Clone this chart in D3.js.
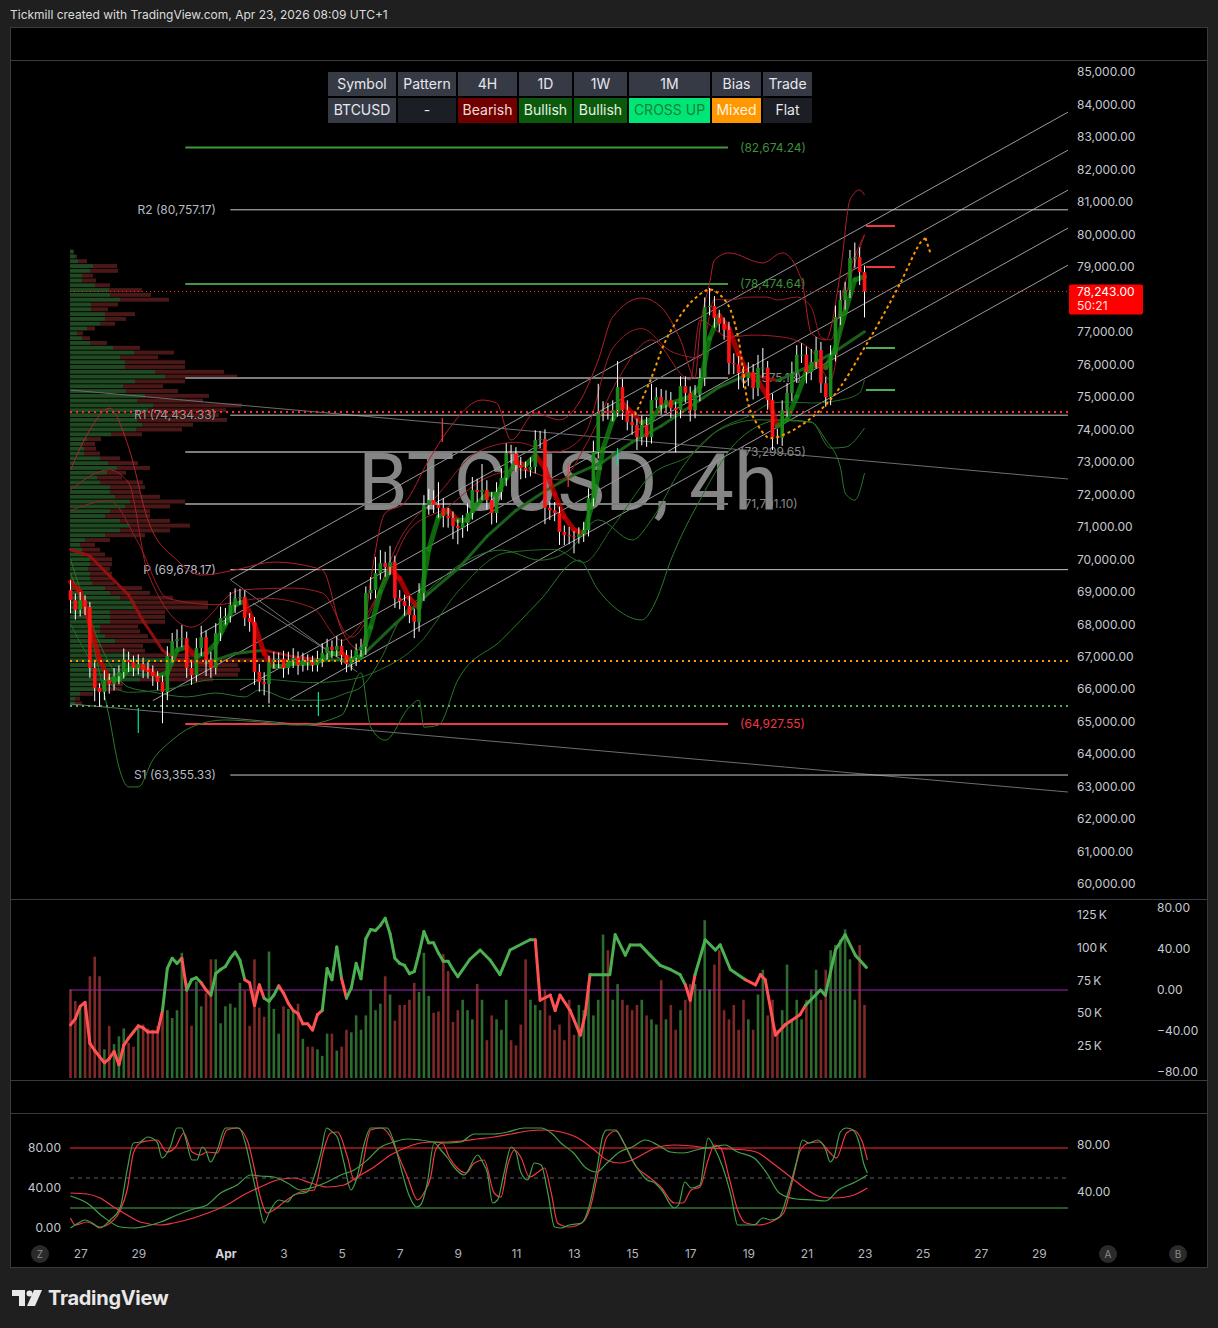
<!DOCTYPE html>
<html><head><meta charset="utf-8">
<script src="https://cdn.jsdelivr.net/npm/d3@7/dist/d3.min.js"></script>
<style>body{margin:0;background:#1f1f1f;}svg{display:block;font-family:Inter,"Noto Sans",sans-serif;}</style>
</head><body><svg id="c" width="1218" height="1328"></svg>
<script>
// ---------------- DATA ----------------
const firstOpen = 69050;
const closes = [68740,68440,68740,68530,66650,66030,65910,66280,66160,66400,
66530,66900,66830,66650,66770,66590,66530,66400,66220,65910,
67020,67480,67540,67570,66650,66430,67270,67600,66900,66650,
67730,68190,68250,68590,68800,68840,68190,68070,66530,66220,
66160,66830,66900,66930,66650,66900,66960,66740,66870,66830,
66740,66930,67110,67300,67200,67330,67050,66770,66960,67200,
67300,68960,69050,69570,69880,69760,69910,68800,68710,68560,
68280,68070,68960,71670,71820,71670,71580,71330,71270,71020,
70960,71110,71420,72130,72070,72130,71820,71420,72070,72500,
73270,73250,72900,72810,72750,72840,73670,73700,71580,71510,
71420,70840,70740,70710,70680,70780,70900,71880,73300,74500,
74560,74500,74590,75300,74590,74220,74130,73760,74130,73760,
74900,74990,74750,74900,74650,74590,75330,75120,74590,75060,
75580,77760,77800,77430,77240,77060,76040,76000,75730,75580,
75760,75270,75890,75900,74900,73760,73740,74590,75120,75730,
76290,76300,75760,76070,76440,75420,74990,76290,77460,77980,
78290,79270,79300,78840,78243];
const wickUp = [300,200,250,150,150,200,150,300,200,250,200,350,250,200,300,200,250,200,150,200,
300,250,300,400,200,250,300,350,200,250,300,350,250,400,300,250,200,150,150,250,
300,200,250,200,250,250,300,200,250,200,200,250,300,250,200,300,200,150,250,200,
250,200,400,500,400,350,500,200,250,200,300,200,300,300,350,300,700,300,250,200,
200,250,300,400,350,800,300,250,300,300,300,250,200,250,200,300,300,250,300,200,
250,200,200,250,150,200,250,300,350,900,300,250,300,800,250,300,250,200,300,250,
500,300,250,300,250,200,300,300,200,300,300,300,550,300,250,200,250,300,250,200,
300,250,400,600,200,200,250,300,300,350,300,350,250,400,400,250,200,300,350,300,
250,250,450,300,200];
const wickDn = [400,300,200,250,300,400,450,250,300,200,250,200,300,250,200,250,200,300,250,960,
250,200,200,250,300,300,200,250,500,300,200,250,200,200,250,200,250,300,400,300,
350,600,200,250,300,200,250,300,200,250,200,200,250,200,250,200,300,250,200,250,
200,250,200,250,200,300,250,300,250,300,250,500,300,250,300,250,300,350,300,400,
500,300,250,200,300,250,300,350,300,250,250,300,200,350,250,200,200,250,500,300,
250,400,300,250,500,200,250,200,250,200,250,200,250,200,300,250,300,400,250,300,
200,250,300,250,300,1300,250,300,350,250,200,250,250,300,250,300,350,300,500,300,
250,350,250,300,300,400,200,250,200,250,300,250,350,250,200,300,300,250,200,250,
300,250,300,400,800];
const volumesK = [68,59,54,57,78,93,78,22,40,26,32,38,27,24,40,41,38,37,40,52,
52,46,52,96,73,40,74,55,65,91,91,42,55,57,54,73,67,40,91,54,
47,97,53,34,55,53,51,57,30,24,24,22,17,34,34,21,24,37,35,48,
37,48,68,52,57,78,64,44,56,56,60,73,66,96,63,50,51,95,82,43,
52,60,52,45,72,60,29,48,45,37,60,29,25,41,91,60,56,52,68,48,
37,41,29,60,33,56,52,68,48,60,110,98,60,72,60,56,52,56,60,48,
45,41,75,45,56,37,52,60,72,72,68,121,68,87,98,52,45,56,37,60,
45,37,64,83,48,60,37,52,87,45,60,45,60,68,83,60,83,98,102,106,
114,91,60,102,56];
const oscPts = [[0,-34],[1,-28],[2,-16],[3,-12],[4,-52],[5,-59],[6,-65],[7,-71],[8,-67],[9,-60],[10,-73],[11,-54],[12,-47],[13,-41],[14,-35],[15,-37],[16,-41],[18,-41],[19,-20],[20,21],[21,31],[22,26],[23,31],[24,0],[25,10],[26,12],[27,7],[28,0],[29,-5],[30,16],[31,20],[32,23],[33,31],[34,37],[35,29],[36,10],[37,7],[38,-15],[39,5],[40,-8],[41,-11],[42,-5],[43,4],[44,-3],[45,-13],[46,-20],[47,-23],[48,-33],[49,-33],[50,-39],[51,-24],[52,-20],[53,21],[54,10],[55,42],[56,11],[57,-8],[58,2],[59,26],[60,11],[61,50],[62,59],[63,58],[64,63],[65,70],[66,55],[67,31],[68,26],[69,24],[70,16],[71,18],[72,36],[73,57],[74,46],[75,46],[76,36],[77,28],[78,28],[79,20],[80,13],
[82.5,30],[84.6,39],[86.7,29],[88.7,15],[90.8,39],[94.9,49],[96,49],[97,-10],[99.1,-5],[100.1,-20],[101.1,-5],[103.2,-20],[105.3,-44],[106.3,-24],[107.3,15],[111.4,15],[112.5,54],[114.6,34],[115.6,44],[117.7,44],[119.7,34],[121.8,24],[123.9,20],[125.9,15],[127,5],[128,-10],[129,15],[131.1,49],[133.2,39],[134.2,44],[136.3,20],[139.4,10],[141.5,5],[142.5,15],[143.5,10],[145.6,-44],[147.6,-34],[150.7,-24],[151.8,-15],[154.9,0],[155.9,-5],[158,39],[160,54],[162.1,34],[164.4,22]];
const oscColorSpans = [[0,19,'r'],[19,23,'g'],[23,24,'r'],[24,27,'g'],[27,29,'r'],[29,36,'g'],[36,40,'r'],[40,43,'g'],[43,52,'r'],[52,56,'g'],[56,57,'r'],[57,96.5,'g'],[96.5,107,'r'],[107,127.5,'g'],[127.5,129,'r'],[129,139,'g'],[139,151.5,'r'],[151.5,166,'g']];
const stochK = [[0,0],[2,6],[3,8],[4.8,4],[6,0],[8.2,8],[10.3,21],[11.7,58],[13,85],[14.4,86],[15.9,91],[17.9,86],[18.9,70],[20.6,81],[22,100],[23,100],[23.7,91],[25.1,68],[26.1,68],[27.2,81],[27.9,78],[28.9,66],[30.3,78],[32,100],[34.8,100],[36.1,85],[37.5,55],[38.6,31],[40,5],[41,15],[43,28],[44.8,26],[46.1,33],[48.9,36],[50.3,51],[51.7,75],[52.9,100],[54.1,96],[55.1,91],[56.5,65],[57.9,38],[59.2,51],[60.6,83],[62,100],[65.4,100],[66.8,86],[68.2,61],[69.9,33],[71.5,21],[72.3,23],[73.7,45],[75.1,85],[76.5,78],[77.9,70],[79.2,61],[81.3,53],[84.1,73],[85.1,66],[86.1,55],[87.2,25],[88.2,28],[89.6,56],[91,81],[92,76],[93,56],[94.4,48],[95.8,65],[97.2,63],[98.6,35],[100,1],[101.3,0],[103,3],[105.6,5],[106.9,18],[108.7,58],[110,93],[110.8,98],[112.6,98],[114.3,85],[116,68],[117.8,55],[119.1,48],[120.4,46],[122.1,38],[124.7,20],[125.6,23],[126.9,46],[128.2,40],[130,43],[131.7,90],[133,80],[134.7,61],[136.5,31],[137.8,3],[139.5,3],[141.2,3],[143,10],[144.7,8],[146.4,11],[148.2,35],[149.9,65],[151.2,88],[152.5,85],[154.3,88],[156,78],[156.9,66],[157.7,71],[159,96],[160.3,100],[161.6,98],[162.9,85],[163.8,65],[164.6,55]];
const stochD = [[0,10],[1,3],[3.4,6],[6.1,1],[8.2,5],[10.3,18],[11.7,38],[13,75],[14.4,85],[15.8,87],[17.9,88],[19.9,76],[21.7,81],[23.4,95],[25.1,76],[26.8,73],[28.2,76],[30.3,75],[32.3,98],[34.4,100],[36.5,88],[37.9,61],[39.2,31],[40.6,15],[42,18],[44.1,26],[47.5,36],[50.3,38],[52.3,78],[53.7,95],[55.1,96],[57.2,71],[58.6,48],[59.9,55],[62,98],[64.1,100],[66.1,91],[67.5,75],[69.6,51],[71.7,28],[73,35],[74.4,51],[75.4,78],[76.8,85],[78.2,71],[79.9,60],[81.7,55],[83.4,65],[85.4,68],[87.5,35],[88.9,31],[90.3,63],[91.7,78],[93,71],[94.8,51],[96.6,56],[97.9,60],[99.3,35],[100.6,5],[101.3,3],[103,1],[105.6,5],[107.4,21],[109.1,58],[110.8,91],[112.6,97],[114.3,85],[116.9,61],[119.5,51],[122.1,40],[124.7,25],[126.5,25],[128.2,38],[130,41],[131.7,68],[133,83],[134.3,80],[136,51],[137.8,18],[139.5,5],[142.1,3],[144.7,6],[147.3,15],[149,45],[150.8,78],[152.5,85],[154.7,86],[156.9,75],[158.2,70],[160.3,95],[161.6,98],[163.4,88],[164.6,68]];
const slowK = [[0,32],[3.4,25],[6.8,11],[10.3,1],[13,0],[15.8,2],[18.6,6],[22,13],[25.4,19],[28.2,23],[31,35],[34.4,43],[37.2,53],[39.2,52],[42,51],[44.8,45],[47.5,38],[50.3,41],[53,46],[55.8,53],[58.6,58],[61.3,68],[64.1,81],[66.8,86],[69.6,89],[72.3,88],[75.1,86],[77.9,85],[80.6,86],[83.4,94],[87.5,94],[90.3,96],[93.7,100],[97.2,100],[99.3,95],[101.3,85],[103.9,75],[106.5,60],[108.7,56],[110.8,65],[113.4,76],[116,81],[118.7,88],[121.3,83],[123.9,76],[126.5,75],[130,79],[132.6,81],[135.2,83],[137.8,76],[141.2,70],[143.8,55],[146.4,35],[149.9,29],[153.4,28],[156,27],[158.6,38],[162.1,46],[164.6,53]];
const slowD = [[0,35],[3.4,34],[6.1,30],[8.9,21],[11.7,13],[14.4,6],[18.6,3],[21.3,5],[25.4,10],[28.9,16],[32.3,23],[35.7,33],[39.2,41],[42.7,48],[46.1,50],[49.6,45],[53,41],[56.5,43],[59.2,51],[62.7,61],[66.1,73],[69.6,81],[72.3,85],[75.1,86],[77.9,86],[80.6,87],[84.1,89],[87.5,91],[91,94],[94.4,97],[97.9,98],[101.3,96],[104.8,90],[108.2,78],[110.8,68],[113.4,65],[116,68],[118.7,75],[121.3,81],[124.7,83],[128.2,82],[131.7,80],[136,79],[139.5,78],[142.1,75],[144.7,66],[148.2,53],[151.6,40],[155.1,31],[157.7,30],[161.2,32],[164.6,40]];
const maFast = [[0,69300],[2,69000],[4,68000],[6,66900],[8,66300],[10,66300],[12,66600],[14,66700],[16,66600],[18,66400],[20,66500],[22,67200],[24,67300],[26,67000],[28,67100],[30,67400],[32,68000],[34,68600],[36,68700],[38,68000],[40,67100],[42,66700],[44,66700],[46,66800],[48,66800],[50,66800],[52,66900],[54,67100],[56,67100],[58,66900],[60,67000],[62,67900],[64,69000],[66,69700],[68,69400],[70,68800],[72,68500],[74,70300],[76,71300],[78,71500],[80,71200],[82,71200],[84,71700],[86,72000],[88,72000],[90,72500],[92,73000],[94,72900],[96,73200],[98,72800],[100,72000],[102,71300],[104,70900],[106,70800],[108,71800],[110,73400],[112,74300],[114,74800],[116,74500],[118,74200],[120,74300],[122,74700],[124,74800],[126,74900],[128,75000],[130,75300],[132,76800],[134,77500],[136,77100],[138,76300],[140,75700],[142,75500],[144,75000],[146,74100],[148,74300],[150,75000],[152,75800],[154,76000],[156,75900],[158,76500],[160,77600],[162,78600],[164,78700]];
const maSlow = [[0,70300],[4,70100],[8,69500],[12,68900],[15,68100],[19,67200],[22,66900],[28,66800],[34,67100],[40,67200],[46,67000],[52,66900],[56,66900],[60,67000],[67,68000],[74,68950],[80,69700],[86,70700],[92,71500],[98,72100],[104,72600],[110,73000],[116,73600],[122,74100],[128,74700],[134,75300],[140,75700],[146,75500],[152,75900],[158,76400],[164,77000]];
const bandU1 = [[0,72750],[4,73980],[8,74650],[12,73450],[16,71200],[22,69970],[27,69510],[34,69670],[42,69910],[52,69670],[56,67820],[60,67200],[62,69360],[65,71420],[69,71730],[74,73050],[78,73980],[85,74900],[88,74810],[91,73670],[96,74500],[101,74290],[105,74810],[109,76130],[112,77460],[118,78040],[122,77760],[126,76750],[129,75580],[130,77060],[132,78500],[133,79210],[136,79430],[143,79120],[147,79430],[151,78600],[153,76960],[156,76750],[159,78810],[161,81060],[163,81370],[164,81210]];
const bandU2 = [[0,72130],[8,72750],[12,72350],[16,69570],[25,67910],[35,69050],[46,69110],[52,68960],[58,67600],[65,69360],[70,70900],[78,71610],[85,72440],[93,72750],[101,72440],[107,73670],[113,75520],[120,76750],[128,75520],[130,77360],[136,76840],[141,76900],[147,76840],[153,76440],[157,75520],[160,77980],[164,79980]];
const bandU3 = [[0,71500],[8,71800],[14,70500],[20,68800],[30,68600],[40,68800],[50,68500],[56,67500],[62,68500],[68,70600],[76,72000],[84,73300],[92,73600],[100,73300],[106,73800],[112,76500],[118,77100],[124,76400],[130,76200],[133,78000],[136,77980],[140,78070],[144,78070],[146,77980],[150,78070],[153,77760],[155,76840],[157,76750],[160,78500],[164,80000]];
const bandL1 = [[0,69570],[4,67820],[6,66500],[8,65140],[10,63600],[12,62990],[14,62990],[17,63820],[21,64430],[25,64830],[32,65050],[39,64990],[47,64890],[56,65200],[60,66500],[62,64830],[65,64430],[70,65450],[72,65660],[73,64830],[76,64890],[80,66280],[89,67510],[97,68740],[105,69970],[109,69050],[113,68440],[118,68130],[121,68740],[124,69970],[130,71820],[138,73670],[147,74290],[153,74220],[156,73670],[159,72840],[160,72040],[162,71820],[164,72650]];
const bandL2 = [[0,70000],[8,66800],[12,66060],[17,65910],[24,65760],[30,65880],[36,65760],[39,65970],[46,65660],[52,65660],[57,65880],[60,66060],[64,66900],[68,68130],[74,69050],[82,69970],[89,70280],[97,69970],[103,70280],[109,71210],[116,70590],[120,71210],[126,72750],[134,73980],[142,74290],[153,74220],[157,73420],[160,73450],[164,74040]];
const bandL3 = [[0,68000],[6,66500],[12,65900],[20,66000],[30,66300],[40,66300],[50,66200],[58,66300],[64,66600],[72,67400],[80,69000],[90,70200],[100,70300],[106,69900],[112,71000],[120,72600],[128,73200],[134,74000],[140,74400],[145,74810],[148,74840],[153,74810],[159,74900],[163,75120],[164,75520]];
const pivots = [["R2",80757.17],["R1",74434.33],["P",69678.17],["S1",63355.33]];
const levels = [[82674.24,"g"],[78474.64,"g"],[75575.18,"n"],[73299.65,"n"],[71701.10,"n"],[64927.55,"r"]];
const dotted = [[74531,"r"],[66865,"o"],[65480,"g"]];
const lastPrice = 78243.00, countdown = "50:21";
const targets = [[80258,"r"],[78996,"r"],[76502,"g"],[75209,"g"]];
const ticks = [[14,65420,64650,"g"],[51.2,65910,65170,"g"],[113,73420,72900,"g"],[76.8,74350,73610,"r"],[102.8,72960,72220,"r"]];
const channel = [[[33,69370],[206.1,83770]],[[26.8,67695],[206.1,82600]],[[17,65645],[206.1,81370]],[[35,65970],[206.1,80200]],[[45.4,65700],[206.1,79060]]];
const otherLines = [[[0,75209],[206.1,72469]],[[0,65541],[206.1,62831]],[[33,69370],[59.2,66530]],[[37.7,68650],[58.4,66680]]];
const projPath = [[116.6,74440],[119.8,75517],[123.3,76841],[128,77888],[131.5,78288],[132.7,78288],[135.6,77888],[137.7,76964],[139,75732],[139.8,74901],[141,74377],[143.9,73761],[145.1,73731],[149.3,73977],[154.9,74593],[159,75301],[163.7,76441],[167.3,77364],[171.4,78503],[175.5,79735],[176.6,79889]];
const projArrow = [[176.6,79889],[177.6,79427]];
const vpTop = 79470, vpStep = 148;
const vpBuy = [3,5,8,23,20,12,12,25,39,40,50,21,21,35,35,30,17,7,12,20,43,64,50,55,55,85,95,65,53,56,75,67,83,78,70,67,72,66,41,17,13,14,14,30,38,47,37,27,30,40,40,45,60,55,40,35,50,60,50,35,15,10,12,15,20,20,18,20,20,22,35,40,50,65,65,40,40,40,30,30,35,45,30,30,60,120,80,80,80,70,25,25,10,5,5];
const vpSell = [1,2,9,24,28,11,14,15,33,41,49,27,17,30,21,15,8,6,8,17,27,40,38,60,60,69,72,50,40,52,64,66,89,78,79,90,51,46,31,14,12,12,16,20,30,33,19,25,43,35,30,45,55,45,40,45,50,60,50,40,25,15,18,20,22,22,22,22,22,23,37,40,53,73,73,55,55,55,38,40,43,55,43,45,70,137,88,90,88,73,28,27,13,5,7];
const tableHead = ["Symbol","Pattern","4H","1D","1W","1M","Bias","Trade"];
const tableRow = ["BTCUSD","-","Bearish","Bullish","Bullish","CROSS UP","Mixed","Flat"];
const priceTicks = d3.range(60000, 85001, 1000);
const volTicks = [25,50,75,100,125];
const oscTicks = [-80,-40,0,40,80];
const stochTicksL = [0,40,80];
const stochTicksR = [40,80];
const timeTicks = ["2026-03-27","2026-03-29","2026-04-01","2026-04-03","2026-04-05","2026-04-07","2026-04-09","2026-04-11","2026-04-13","2026-04-15","2026-04-17","2026-04-19","2026-04-21","2026-04-23","2026-04-25","2026-04-27","2026-04-29"];

// ---------------- SCALES ----------------
const svg = d3.select('#c');
const t0 = Date.UTC(2026,2,26,16);
const xT = d3.scaleUtc().domain([new Date(t0), new Date(Date.UTC(2026,3,23,0))]).range([70.5, 864.5]);
const xi = i => xT(new Date(t0 + i*4*3600e3));
const yP = d3.scaleLinear().domain([60000,85000]).range([884,72]);
const yV = d3.scaleLinear().domain([0,125]).range([1078,915]);
const yO = d3.scaleLinear().domain([-80,80]).range([1072,908]);
const yS = d3.scaleLinear().domain([0,80]).range([1228,1148]);
const yS2 = d3.scaleLinear().domain([40,80]).range([1192,1145]);
const xVP = d3.scaleLinear().domain([0,100]).range([70,170]);
const PLOT_R = 1068;
const col = {g:'#1b8a1b', r:'#ff1414', ax:'#c7c9d0'};

// ---------------- FRAME ----------------
svg.append('rect').attr('width',1218).attr('height',1328).attr('fill','#1f1f1f');
svg.append('text').attr('x',10).attr('y',19).attr('font-size',12).attr('fill','#dcdcdc')
  .text('Tickmill created with TradingView.com, Apr 23, 2026 08:09 UTC+1');
svg.append('rect').attr('x',10.5).attr('y',27.5).attr('width',1197).attr('height',1240).attr('fill','#000').attr('stroke','#3a3a3a');
[60.5,899.5,1080.5,1113.5].forEach(y=>svg.append('line').attr('x1',11).attr('x2',1207).attr('y1',y).attr('y2',y).attr('stroke','#363a45'));

const defs = svg.append('defs');
defs.append('clipPath').attr('id','cm').append('rect').attr('x',11).attr('y',61).attr('width',PLOT_R-11).attr('height',838);
defs.append('clipPath').attr('id','cv').append('rect').attr('x',11).attr('y',900).attr('width',PLOT_R-11).attr('height',180);
defs.append('clipPath').attr('id','cs').append('rect').attr('x',11).attr('y',1114).attr('width',PLOT_R-11).attr('height',126);

const main = svg.append('g').attr('clip-path','url(#cm)');

main.append('text').attr('x',568).attr('y',510).attr('text-anchor','middle').attr('font-family','Roboto').attr('font-size',80)
  .attr('fill','#858585').text('BTCUSD, 4h');

const vpG = main.append('g');
vpBuy.forEach((b,k)=>{
  const p = vpTop - vpStep*k, yc = yP(p), hh = 3.9;
  vpG.append('rect').attr('x',xVP(0)).attr('y',yc-hh/2).attr('width',xVP(b)-xVP(0)).attr('height',hh).attr('fill','#1f4a22');
  vpG.append('rect').attr('x',xVP(b)).attr('y',yc-hh/2).attr('width',xVP(vpSell[k])-xVP(0)).attr('height',hh).attr('fill','#4b1818');
});

channel.forEach(l=>main.append('line').attr('x1',xi(l[0][0])).attr('y1',yP(l[0][1])).attr('x2',xi(l[1][0])).attr('y2',yP(l[1][1])).attr('stroke','#9a9a9a').attr('stroke-width',1));
otherLines.forEach(l=>main.append('line').attr('x1',xi(l[0][0])).attr('y1',yP(l[0][1])).attr('x2',xi(l[1][0])).attr('y2',yP(l[1][1])).attr('stroke','#6e6e6e').attr('stroke-width',1));

pivots.forEach(([n,p])=>{
  main.append('line').attr('x1',xi(33)).attr('x2',PLOT_R).attr('y1',yP(p)).attr('y2',yP(p)).attr('stroke','#c9c9c9').attr('stroke-width',1);
  main.append('text').attr('x',216).attr('y',yP(p)).attr('dy','0.35em').attr('text-anchor','end').attr('font-size',12)
    .attr('fill', n==='R1' ? '#9a9a9a' : '#b8bbc2').text(n+' ('+d3.format(',.2f')(p)+')');
});
const lvlCol = {g:'#3d9a3d', n:'#7d7d7d', r:'#f23645'};
const lvlTxt = {g:'#3f8f3f', n:'#8a8a8a', r:'#f23645'};
levels.forEach(([p,c])=>{
  main.append('line').attr('x1',xi(23.7)).attr('x2',xi(135.8)).attr('y1',yP(p)).attr('y2',yP(p)).attr('stroke',lvlCol[c]).attr('stroke-width',2);
  main.append('text').attr('x',xi(138.3)).attr('y',yP(p)).attr('dy','0.35em').attr('font-size',12).attr('fill',lvlTxt[c]).text('('+d3.format(',.2f')(p)+')');
});

const bandLine = d3.line().x(d=>xi(d[0])).y(d=>yP(d[1])).curve(d3.curveMonotoneX);
[[bandU1,'#b3202a'],[bandU2,'#a31d24'],[bandU3,'#9c1c22'],[bandL1,'#2b7a2b'],[bandL2,'#2a742a'],[bandL3,'#236a23']].forEach(([d,c])=>
  main.append('path').attr('d',bandLine(d)).attr('fill','none').attr('stroke',c).attr('stroke-width',1));

function dirLine(pts, w, cg, cr, op){
  for(let k=1;k<pts.length;k++){
    const a=pts[k-1], b=pts[k];
    main.append('line').attr('x1',xi(a[0])).attr('y1',yP(a[1])).attr('x2',xi(b[0])).attr('y2',yP(b[1]))
      .attr('stroke', b[1]>=a[1]?cg:cr).attr('stroke-width',w).attr('stroke-linecap','round').attr('opacity',op);
  }
}
dirLine(maSlow, 3, '#1d6b1d', '#9e1010', 0.9);
dirLine(maFast, 5, '#128a12', '#d40000', 0.75);

const bars = closes.map((c,i)=>{const o=i?closes[i-1]:firstOpen; return {i,o,c,h:Math.max(o,c)+wickUp[i],l:Math.min(o,c)-wickDn[i]};});
const cg = main.append('g');
bars.forEach(b=>{
  const x = xi(b.i);
  cg.append('line').attr('x1',x).attr('x2',x).attr('y1',yP(b.h)).attr('y2',yP(b.l)).attr('stroke','#ffffff').attr('stroke-width',1);
  const y1=yP(Math.max(b.o,b.c)), y2=yP(Math.min(b.o,b.c));
  cg.append('rect').attr('x',x-1.8).attr('width',3.6).attr('y',y1).attr('height',Math.max(1,y2-y1)).attr('fill', b.c>=b.o?col.g:col.r);
});

ticks.forEach(([i,a,b,c])=>main.append('line').attr('x1',xi(i)).attr('x2',xi(i)).attr('y1',yP(a)).attr('y2',yP(b)).attr('stroke',c==='g'?'#00e59b':'#ff3b3b').attr('stroke-width',1.2));

const dotCol = {r:'#ff2a2a', o:'#ff9800', g:'#4caf50'};
dotted.forEach(([p,c])=>main.append('line').attr('x1',70).attr('x2',PLOT_R).attr('y1',yP(p)).attr('y2',yP(p))
  .attr('stroke',dotCol[c]).attr('stroke-width',2).attr('stroke-dasharray','2,4'));
main.append('line').attr('x1',70).attr('x2',PLOT_R).attr('y1',yP(lastPrice)).attr('y2',yP(lastPrice))
  .attr('stroke','#ff2a2a').attr('stroke-width',1).attr('stroke-dasharray','1,3');

const projLine = d3.line().x(d=>xi(d[0])).y(d=>yP(d[1])).curve(d3.curveCatmullRom);
main.append('path').attr('d',projLine(projPath)).attr('fill','none').attr('stroke','#ff9800').attr('stroke-width',2).attr('stroke-dasharray','3,3');
main.append('path').attr('d',d3.line().x(d=>xi(d[0])).y(d=>yP(d[1]))(projArrow)).attr('fill','none').attr('stroke','#ff9800').attr('stroke-width',2).attr('stroke-dasharray','3,3');

targets.forEach(([p,c])=>main.append('line').attr('x1',xi(164.3)).attr('x2',xi(170.3)).attr('y1',yP(p)).attr('y2',yP(p)).attr('stroke',c==='r'?'#f23645':'#4caf50').attr('stroke-width',2));

// table
const colEdges = [327,397,457,518,573,628,711,762,813];
const rowBg = ['#363a45','#1c1e25','#700000','#0b5a0b','#0b5a0b','#00e676','#ff9800','#1c1e25'];
const rowTx = ['#e6e8ee','#e6e8ee','#f0dcdc','#e6f2e6','#e6f2e6','#17813a','#fff3e0','#e6e8ee'];
const tg = svg.append('g').attr('font-size',14);
tableHead.forEach((h,k)=>{
  const x0=colEdges[k]+1, w=colEdges[k+1]-colEdges[k]-2;
  tg.append('rect').attr('x',x0).attr('y',72).attr('width',w).attr('height',24).attr('fill','#363a45');
  tg.append('text').attr('x',x0+w/2).attr('y',84).attr('dy','0.35em').attr('text-anchor','middle').attr('fill','#e6e8ee').text(h);
  tg.append('rect').attr('x',x0).attr('y',98).attr('width',w).attr('height',25).attr('fill',rowBg[k]);
  tg.append('text').attr('x',x0+w/2).attr('y',110.5).attr('dy','0.35em').attr('text-anchor','middle').attr('fill',rowTx[k]).text(tableRow[k]);
});

// price axis (the tick hidden behind the last-price box is skipped)
const shownTicks = priceTicks.filter(t=>Math.abs(yP(t)-yP(lastPrice))>16);
const pa = svg.append('g').attr('transform','translate(1077,0)').call(d3.axisRight(yP).tickValues(shownTicks).tickFormat(d3.format(',.2f')).tickSize(0).tickPadding(0));
pa.select('.domain').remove();
pa.selectAll('text').attr('font-size',12).attr('fill',col.ax).attr('font-family','Inter');
svg.append('rect').attr('x',1069).attr('y',284.5).attr('width',74).attr('height',30).attr('rx',2).attr('fill','#ff0000');
svg.append('text').attr('x',1077).attr('y',yP(lastPrice)+0.5).attr('dy','0.35em').attr('font-size',12).attr('fill','#fff').text(d3.format(',.2f')(lastPrice));
svg.append('text').attr('x',1077).attr('y',yP(lastPrice)+14).attr('dy','0.35em').attr('font-size',12).attr('fill','#ffe0e0').text(countdown);

// ---------------- VOLUME PANE ----------------
const vp = svg.append('g').attr('clip-path','url(#cv)');
volumesK.forEach((v,i)=>{
  const b=bars[i];
  vp.append('rect').attr('x',xi(i)-1.3).attr('width',2.6).attr('y',yV(v)).attr('height',yV(0)-yV(v)).attr('fill', b.c>=b.o?'#2e6b2e':'#7e2828');
});
vp.append('line').attr('x1',70).attr('x2',PLOT_R).attr('y1',yO(0)).attr('y2',yO(0)).attr('stroke','#9c27b0').attr('stroke-width',1);
function spanCol(m){ for(const s of oscColorSpans){ if(m>=s[0]&&m<s[1]) return s[2]; } return 'g'; }
for(let k=1;k<oscPts.length;k++){
  const a=oscPts[k-1], b=oscPts[k];
  vp.append('line').attr('x1',xi(a[0])).attr('y1',yO(a[1])).attr('x2',xi(b[0])).attr('y2',yO(b[1]))
    .attr('stroke', spanCol((a[0]+b[0])/2)==='g'?'#4caf50':'#ff5252').attr('stroke-width',3).attr('stroke-linecap','round');
}
const va = svg.append('g').attr('transform','translate(1077,0)').call(d3.axisRight(yV).tickValues(volTicks).tickFormat(d=>d+'\u2009K').tickSize(0).tickPadding(0));
va.select('.domain').remove(); va.selectAll('text').attr('font-size',12).attr('fill',col.ax).attr('font-family','Inter');
const oa = svg.append('g').attr('transform','translate(1157,0)').call(d3.axisRight(yO).tickValues(oscTicks).tickFormat(d3.format('.2f')).tickSize(0).tickPadding(0));
oa.select('.domain').remove(); oa.selectAll('text').attr('font-size',12).attr('fill',col.ax).attr('font-family','Inter');

// ---------------- STOCH PANE ----------------
const sp = svg.append('g').attr('clip-path','url(#cs)');
sp.append('line').attr('x1',70).attr('x2',PLOT_R).attr('y1',yS(80)).attr('y2',yS(80)).attr('stroke','#ff2a2a').attr('stroke-width',1);
sp.append('line').attr('x1',70).attr('x2',PLOT_R).attr('y1',yS(20)).attr('y2',yS(20)).attr('stroke','#4caf50').attr('stroke-width',1);
sp.append('line').attr('x1',70).attr('x2',PLOT_R).attr('y1',yS(50)).attr('y2',yS(50)).attr('stroke','#5d606b').attr('stroke-width',1).attr('stroke-dasharray','4,4');
const sLine = d3.line().x(d=>xi(d[0])).y(d=>yS(d[1])).curve(d3.curveMonotoneX);
[[slowD,'#f23645'],[slowK,'#43a047'],[stochD,'#f23645'],[stochK,'#43a047']].forEach(([d,c])=>
  sp.append('path').attr('d',sLine(d)).attr('fill','none').attr('stroke',c).attr('stroke-width',1.2));
const sa = svg.append('g').attr('transform','translate(61,0)').call(d3.axisLeft(yS).tickValues(stochTicksL).tickFormat(d3.format('.2f')).tickSize(0).tickPadding(0));
sa.select('.domain').remove(); sa.selectAll('text').attr('font-size',12).attr('fill',col.ax).attr('font-family','Inter');
const sa2 = svg.append('g').attr('transform','translate(1077,0)').call(d3.axisRight(yS2).tickValues(stochTicksR).tickFormat(d3.format('.2f')).tickSize(0).tickPadding(0));
sa2.select('.domain').remove(); sa2.selectAll('text').attr('font-size',12).attr('fill',col.ax).attr('font-family','Inter');

// ---------------- TIME AXIS ----------------
const tickDates = timeTicks.map(s=>new Date(s+'T00:00:00Z'));
const ta = svg.append('g').attr('transform','translate(0,1249)').call(d3.axisBottom(xT).tickValues(tickDates)
  .tickFormat(d=>d.getUTCDate()===1?'Apr':String(d.getUTCDate())).tickSize(0).tickPadding(0));
ta.select('.domain').remove();
ta.selectAll('text').attr('font-size',12).attr('font-family','Inter')
  .attr('fill',d=>d.getUTCDate()===1?'#d1d4dc':'#b2b5be').attr('font-weight',d=>d.getUTCDate()===1?700:400);
[[40,'Z'],[1108,'A'],[1178,'B']].forEach(([x,t])=>{
  svg.append('circle').attr('cx',x).attr('cy',1254).attr('r',9).attr('fill','#2a2a2a');
  svg.append('text').attr('x',x).attr('y',1254).attr('dy','0.35em').attr('text-anchor','middle').attr('font-size',10).attr('fill','#8a8a8a').text(t);
});

// ---------------- LOGO ----------------
const lg = svg.append('g').attr('fill','#e8e8e8');
lg.append('path').attr('d','M12,1290 h13 v16 h-6 v-10 h-7 z');
lg.append('circle').attr('cx',29.5).attr('cy',1293.5).attr('r',3);
lg.append('path').attr('d','M34,1290 h8 l-7,16 h-8 z');
lg.append('text').attr('x',48).attr('y',1305).attr('font-size',20).attr('font-weight',700).attr('letter-spacing','-0.3').text('TradingView');
</script></body></html>
